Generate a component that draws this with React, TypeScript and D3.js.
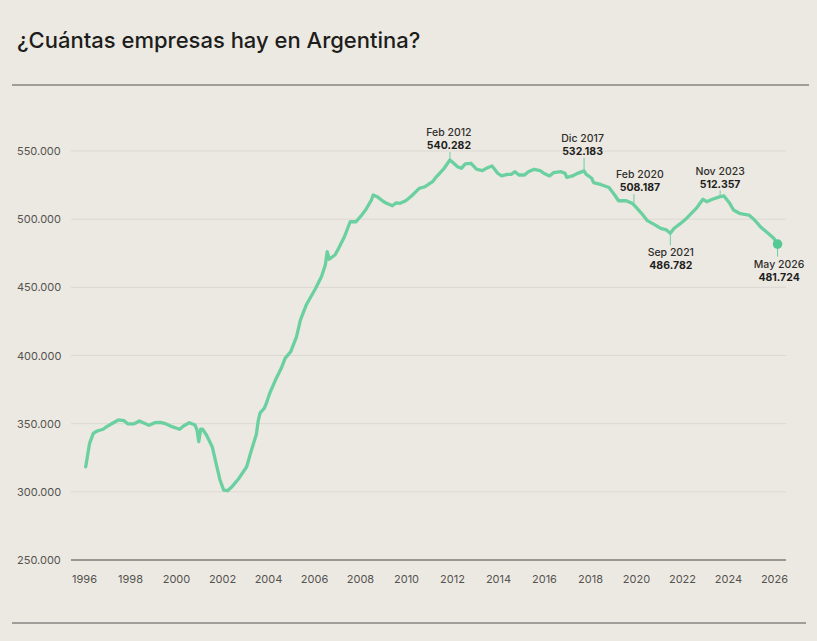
import * as d3 from "d3";
import { useEffect, useRef } from "react";

// monthly series (date, number of companies)
const months: string[] = [
  "1996-04", "1996-06", "1996-08", "1996-10", "1997-01", "1997-03", "1997-06", "1997-09", "1997-12",
  "1998-02", "1998-05", "1998-08", "1998-10", "1999-01", "1999-04", "1999-07", "1999-10",
  "2000-01", "2000-05", "2000-07", "2000-10", "2001-01", "2001-02", "2001-03", "2001-04", "2001-05",
  "2001-07", "2001-10", "2001-12", "2002-02", "2002-04", "2002-06", "2002-08", "2002-12",
  "2003-04", "2003-06", "2003-09", "2003-10", "2003-11", "2004-01", "2004-02", "2004-04", "2004-07",
  "2004-10", "2004-12", "2005-03", "2005-06", "2005-08", "2005-11", "2006-01", "2006-04", "2006-07",
  "2006-09", "2006-10", "2006-11", "2007-02", "2007-04", "2007-07", "2007-10", "2008-01", "2008-04",
  "2008-06", "2008-09", "2008-10", "2008-12", "2009-03", "2009-05", "2009-08", "2009-10", "2009-12",
  "2010-03", "2010-06", "2010-10", "2011-01", "2011-05", "2011-07", "2011-11", "2012-02", "2012-04",
  "2012-06", "2012-08", "2012-10", "2013-01", "2013-04", "2013-07", "2013-09", "2013-12", "2014-03",
  "2014-05", "2014-08", "2014-10", "2014-12", "2015-02", "2015-05", "2015-07", "2015-10", "2016-01",
  "2016-03", "2016-06", "2016-08", "2016-12", "2017-02", "2017-03", "2017-06", "2017-08", "2017-12",
  "2018-01", "2018-04", "2018-05", "2018-09", "2019-01", "2019-04", "2019-06", "2019-10", "2020-01",
  "2020-02", "2020-06", "2020-09", "2021-01", "2021-04", "2021-07", "2021-09", "2021-11", "2022-02",
  "2022-05", "2022-08", "2022-11", "2023-02", "2023-04", "2023-07", "2023-11", "2024-01", "2024-04",
  "2024-06", "2024-09", "2024-11", "2025-02", "2025-05", "2025-08", "2025-12", "2026-03", "2026-05"
];

const empresas: number[] = [
  318400, 335600, 343000, 344600, 345900, 347800, 350300, 352700, 352200,
  349800, 349800, 352000, 350700, 348800, 350700, 351000, 349800,
  347800, 345900, 348300, 350700, 349000, 345400, 336800, 345900, 345900,
  341700, 333100, 320900, 308700, 301300, 300800, 303300, 310000,
  318400, 328300, 342000, 352000, 358000, 361000, 364000, 372300, 382000,
  390600, 397900, 402800, 413800, 426000, 437000, 442000, 449300, 457800,
  466400, 476100, 470600, 473700, 478600, 487100, 498100, 498100, 503000,
  506700, 514000, 517700, 516500, 513300, 511600, 509800, 512000, 511600,
  513500, 517000, 522600, 523800, 527500, 531100, 537300, 543400, 541000,
  538500, 537300, 540500, 541000, 536600, 535600, 537300, 539000, 533700,
  531700, 532900, 532900, 534800, 532400, 532400, 534800, 536600, 535600,
  533700, 531700, 534100, 534800, 533700, 530700, 531700, 533200, 535400,
  533000, 530000, 526800, 525300, 523200, 517700, 513500, 513500, 511600,
  510400, 504300, 498900, 495800, 493300, 492100, 489700, 493300, 496500,
  499900, 504300, 508700, 514600, 512800, 514600, 516500, 517000, 511600,
  506700, 504300, 503700, 503000, 499400, 494500, 489700, 486000, 481700
];

const yTicks: number[] = [250000, 300000, 350000, 400000, 450000, 500000, 550000];
const xTicks: number[] = [1996, 1998, 2000, 2002, 2004, 2006, 2008, 2010, 2012, 2014, 2016, 2018, 2020, 2022, 2024, 2026];

// annotated points
const noteMonths: string[] = ["2012-02", "2017-12", "2020-02", "2021-09", "2023-11", "2026-05"];
const noteLabels: string[] = ["Feb 2012", "Dic 2017", "Feb 2020", "Sep 2021", "Nov 2023", "May 2026"];
const noteValues: string[] = ["540.282", "532.183", "508.187", "486.782", "512.357", "481.724"];

export default function App() {
  const svgRef = useRef<SVGSVGElement | null>(null);

  useEffect(() => {
    const width = 817;
    const height = 641;
    const font = "Inter, 'Noto Sans', sans-serif";
    const green = "#6bd0a0";

    const svg = d3.select(svgRef.current);
    svg.selectAll("*").remove();
    svg.attr("width", width).attr("height", height);

    svg.append("rect").attr("width", width).attr("height", height).attr("fill", "#ece9e3");

    const parse = d3.timeParse("%Y-%m");
    const data = months.map((m, i) => ({ month: m, date: parse(m) as Date, value: empresas[i] }));

    const x = d3.scaleTime()
      .domain([new Date(1996, 0, 1), new Date(2026, 0, 1)])
      .range([80, 770]);
    const y = d3.scaleLinear().domain([250000, 550000]).range([560, 151]);

    // title + rules
    svg.append("text")
      .attr("x", 17).attr("y", 48)
      .attr("font-family", font).attr("font-size", 22).attr("font-weight", 500)
      .attr("fill", "#1d1d1b")
      .text("¿Cuántas empresas hay en Argentina?");

    svg.append("line").attr("x1", 12).attr("x2", 809).attr("y1", 85).attr("y2", 85)
      .attr("stroke", "#555350").attr("stroke-width", 1);
    svg.append("line").attr("x1", 12).attr("x2", 806).attr("y1", 623).attr("y2", 623)
      .attr("stroke", "#555350").attr("stroke-width", 1);

    // grid + y labels
    const fmt = (v: number) => d3.format(",")(v).replace(/,/g, ".");
    const grid = svg.append("g");
    grid.selectAll("line")
      .data(yTicks.filter(t => t > 250000))
      .enter().append("line")
      .attr("x1", 71).attr("x2", 786)
      .attr("y1", d => y(d)).attr("y2", d => y(d))
      .attr("stroke", "#dcd8d1").attr("stroke-width", 1);

    grid.selectAll("text")
      .data(yTicks)
      .enter().append("text")
      .attr("x", 17).attr("y", d => y(d) + 4)
      .attr("font-family", font).attr("font-size", 11).attr("fill", "#55534f")
      .text(d => fmt(d));

    // x axis baseline + labels
    svg.append("line").attr("x1", 71).attr("x2", 786).attr("y1", 560).attr("y2", 560)
      .attr("stroke", "#9b978f").attr("stroke-width", 2);

    svg.append("g").selectAll("text")
      .data(xTicks)
      .enter().append("text")
      .attr("x", d => x(new Date(d, 0, 1)) + 4.5)
      .attr("y", 583)
      .attr("text-anchor", "middle")
      .attr("font-family", font).attr("font-size", 11).attr("fill", "#55534f")
      .text(d => String(d));

    // series line
    const line = d3.line<{ date: Date; value: number }>()
      .x(d => x(d.date))
      .y(d => y(d.value));

    svg.append("path")
      .datum(data)
      .attr("d", line)
      .attr("fill", "none")
      .attr("stroke", green)
      .attr("stroke-width", 3.3)
      .attr("stroke-linejoin", "round")
      .attr("stroke-linecap", "round");

    // annotations: value baseline offset from the point, per label
    const valueDy = [-11, -16, -14, 36, -9, 36.5];
    const textDx = [-1, -1.5, 6, 0.5, 0, 1.5];
    const ann = svg.append("g");
    noteMonths.forEach((m, i) => {
      const d = data.find(p => p.month === m)!;
      const px = x(d.date);
      const py = y(d.value);
      const tx = px + textDx[i];
      const vy = py + valueDy[i];
      const up = valueDy[i] < 0;
      const ly = vy - 13;
      ann.append("line").attr("x1", px).attr("x2", px)
        .attr("y1", up ? vy + 3 : py)
        .attr("y2", up ? py - 1 : ly - 11)
        .attr("stroke", green).attr("stroke-width", 1);
      ann.append("text").attr("x", tx).attr("y", ly)
        .attr("text-anchor", "middle").attr("font-family", font).attr("font-size", 10.5)
        .attr("font-weight", 500).attr("fill", "#2f2e2b").text(noteLabels[i]);
      ann.append("text").attr("x", tx).attr("y", vy)
        .attr("text-anchor", "middle").attr("font-family", font).attr("font-size", 10.5)
        .attr("font-weight", 700).attr("fill", "#1f1e1c").text(noteValues[i]);
      if (i === noteMonths.length - 1) {
        ann.append("circle").attr("cx", px).attr("cy", py).attr("r", 4.8).attr("fill", "#55c993");
      }
    });
  }, []);

  return (
    <svg ref={svgRef} style={{ position: "absolute", left: 0, top: 0, display: "block" }}></svg>
  );
}
